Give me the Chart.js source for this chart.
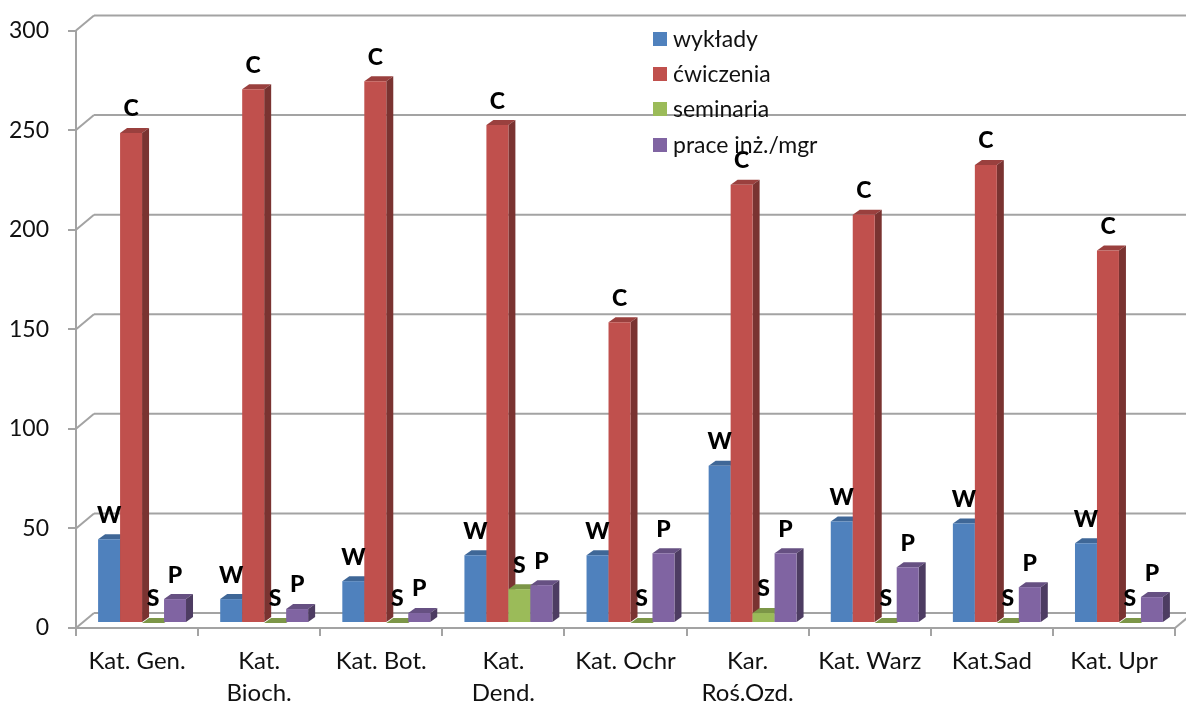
<!DOCTYPE html>
<html>
<head>
<meta charset="utf-8">
<title>Obciążenie dydaktyczne katedr</title>
<script src="https://cdn.jsdelivr.net/npm/chart.js@4"></script>
<style>
  html, body { margin: 0; padding: 0; background: #fff; overflow: hidden; }
</style>
</head>
<body>
<canvas id="myChart" width="1186" height="704"></canvas>
<script>
const categories = ["Kat. Gen.", ["Kat.", "Bioch."], "Kat. Bot.", ["Kat.", "Dend."], "Kat. Ochr", ["Kar.", "Roś.Ozd."], "Kat. Warz", "Kat.Sad", "Kat. Upr"];
const wyklady = [42, 12, 21, 34, 34, 79, 51, 50, 40];
const cwiczenia = [246, 268, 272, 250, 151, 220, 205, 230, 187];
const seminaria = [0, 0, 0, 17, 0, 5, 0, 0, 0];
const prace = [12, 7, 5, 19, 35, 35, 28, 18, 13];
const seriesNames = ["wykłady", "ćwiczenia", "seminaria", "prace inż./mgr"];
const seriesLetters = ["W", "C", "S", "P"];

const frontColors = ["#4F81BD", "#C0504D", "#9BBB59", "#8064A2"];
const topColors = ["#3F6797", "#9A403E", "#7C9647", "#665082"];
const sideColors = ["#2F4D71", "#7A3331", "#5D7035", "#4D3C62"];
const gridColor = "#A3A3A3";
const fontName = "Lato, Carlito, sans-serif";

// depth of the fake 3D box
const wallX = 18, wallY = -15;
const barDepthX = 7, barDepthY = -5;
const barShiftX = 5, barShiftY = -5;

function line(ctx, x1, y1, x2, y2) {
  ctx.beginPath();
  ctx.moveTo(x1, y1);
  ctx.lineTo(x2, y2);
  ctx.stroke();
}

function face(ctx, color, pts) {
  ctx.fillStyle = color;
  ctx.beginPath();
  ctx.moveTo(pts[0][0], pts[0][1]);
  for (let i = 1; i < pts.length; i++) ctx.lineTo(pts[i][0], pts[i][1]);
  ctx.closePath();
  ctx.fill();
}

const box3d = {
  id: "box3d",
  beforeDatasetsDraw(chart) {
    const ctx = chart.ctx;
    const area = chart.chartArea;
    const yScale = chart.scales.y;

    // back wall lines
    ctx.save();
    ctx.strokeStyle = gridColor;
    ctx.lineWidth = 2;
    yScale.ticks.forEach(function (t) {
      const y = yScale.getPixelForValue(t.value);
      line(ctx, area.left, y, area.left + wallX, y + wallY);
      line(ctx, area.left + wallX, y + wallY, area.right + wallX, y + wallY);
    });
    line(ctx, area.right, area.bottom, area.right + wallX, area.bottom + wallY);
    ctx.restore();

    // bars, dataset by dataset so the next front covers the previous side
    ctx.save();
    ctx.translate(barShiftX, barShiftY);
    chart.data.datasets.forEach(function (ds, i) {
      chart.getDatasetMeta(i).data.forEach(function (bar) {
        const l = bar.x - bar.width / 2;
        const r = bar.x + bar.width / 2;
        face(ctx, topColors[i], [[l, bar.y], [l + barDepthX, bar.y + barDepthY], [r + barDepthX, bar.y + barDepthY], [r, bar.y]]);
        face(ctx, sideColors[i], [[r, bar.y], [r + barDepthX, bar.y + barDepthY], [r + barDepthX, bar.base + barDepthY], [r, bar.base]]);
        bar.draw(ctx);
      });
    });
    ctx.restore();
    return false;
  },
  afterDraw(chart) {
    const ctx = chart.ctx;
    ctx.save();

    // letters over the bars
    ctx.fillStyle = "#000";
    ctx.font = "900 23px " + fontName;
    ctx.textAlign = "center";
    ctx.textBaseline = "middle";
    chart.data.datasets.forEach(function (ds, i) {
      chart.getDatasetMeta(i).data.forEach(function (bar) {
        ctx.fillText(seriesLetters[i], bar.x + barShiftX, bar.y + barShiftY - 24);
      });
    });

    // legend sits on top of the plot
    ctx.font = "23px " + fontName;
    ctx.textAlign = "left";
    const legendY = [39, 74, 109, 145];
    chart.data.datasets.forEach(function (ds, i) {
      ctx.fillStyle = frontColors[i];
      ctx.fillRect(653, legendY[i] - 7, 14, 14);
      ctx.fillStyle = "#111";
      ctx.fillText(ds.label, 673, legendY[i] + 1);
    });
    ctx.restore();
  }
};

const seriesValues = [wyklady, cwiczenia, seminaria, prace];

const ctx = document.getElementById("myChart").getContext("2d");
new Chart(ctx, {
  type: "bar",
  data: {
    labels: categories,
    datasets: seriesValues.map(function (values, i) {
      return {
        label: seriesNames[i],
        data: values,
        backgroundColor: frontColors[i],
        borderWidth: 0,
        categoryPercentage: 0.72,
        barPercentage: 1,
      };
    }),
  },
  options: {
    responsive: false,
    animation: false,
    layout: { padding: { top: 30, right: 11, left: 0, bottom: 0 } },
    plugins: {
      legend: { display: false },
      tooltip: { enabled: false },
    },
    scales: {
      x: {
        afterFit(scale) { scale.height = 76; },
        border: { color: gridColor, width: 2 },
        grid: { color: gridColor, lineWidth: 2, drawOnChartArea: false, tickLength: 8, offset: true },
        ticks: {
          autoSkip: false,
          maxRotation: 0,
          padding: 9,
          color: "#111",
          font: { family: fontName, size: 24, lineHeight: 1.35 },
        },
      },
      y: {
        min: 0,
        max: 300,
        afterFit(scale) { scale.width = 76; },
        border: { color: gridColor, width: 2 },
        grid: { color: gridColor, lineWidth: 2, drawOnChartArea: false, tickLength: 8 },
        ticks: {
          stepSize: 50,
          padding: 19,
          color: "#111",
          font: { family: fontName, size: 23, lineHeight: 1 },
        },
      },
    },
  },
  plugins: [box3d],
});
</script>
</body>
</html>
